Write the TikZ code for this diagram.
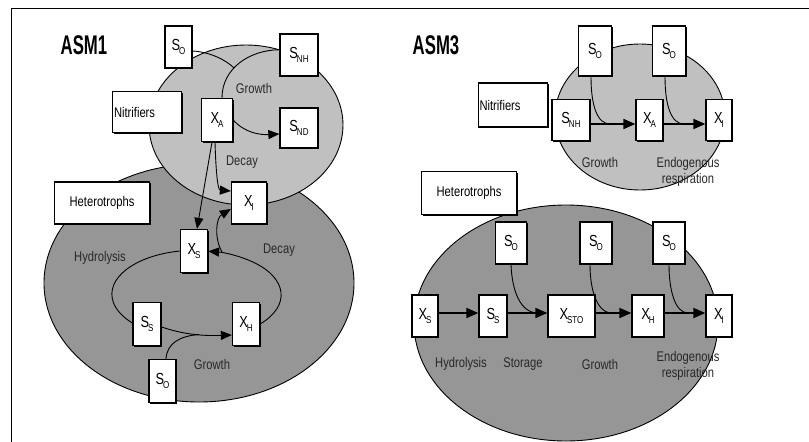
\documentclass[tikz,border=0pt]{standalone}
\usepackage{fontspec}
\setmainfont{Liberation Sans}[FakeStretch=0.8]
\newfontfamily\titlefont{Liberation Sans}[FakeStretch=0.62]
\usetikzlibrary{arrows.meta,calc,shadows}
\definecolor{ltgray}{RGB}{192,192,192}
\definecolor{dkgray}{RGB}{150,150,150}
\definecolor{txtgray}{RGB}{40,40,40}
\newcommand\subtxt[2]{#1\kern-1pt\raisebox{-3.5pt}{\fontsize{10}{10}\selectfont #2}}
\begin{document}
\begin{tikzpicture}[x=1pt,y=-1pt,
 bx/.style={draw, fill=white, line width=1.3pt, inner sep=0pt,
   font=\fontsize{16}{16}\selectfont,
   drop shadow={shadow xshift=1.1pt, shadow yshift=-1.1pt, fill=black, opacity=1}},
 wbx/.style={bx, font=\fontsize{14}{16}\selectfont},
 lbl/.style={inner sep=0pt, text=txtgray, font=\fontsize{14}{16}\selectfont, align=center},
 ttl/.style={inner sep=0pt, font=\titlefont\bfseries\fontsize{27}{27}\selectfont},
 ln/.style={line width=0.9pt},
 arr/.style={line width=0.9pt, -{Triangle[length=11pt,width=9pt]}},
 tarr/.style={line width=1.8pt, -{Triangle[length=12pt,width=10pt]}},
 ell/.style={draw, line width=0.9pt}
]
\useasboundingbox (0,0) rectangle (809,442);
\draw[line width=1pt] (11,442) -- (11,8) -- (809,8);

% ---------------- ASM1 ----------------
\node[ttl] (t1) at (84,45) {ASM1};
\path[ell, fill=dkgray] (199,283) ellipse [x radius=155, y radius=119];
\path[ell, fill=ltgray] (246,125) ellipse [x radius=97, y radius=80];

\node[bx, minimum width=27pt, minimum height=42pt] (so1) at (178.5,47) {\subtxt{S}{O}};
\node[bx, minimum width=38pt, minimum height=42pt] (snh) at (299,55) {\subtxt{S}{NH}};
\node[wbx, minimum width=69pt, minimum height=41pt, text width=66pt, align=left] (nit) at (147,112) {Nitrifiers};
\node[bx, minimum width=31pt, minimum height=43pt] (xa) at (217,120) {\subtxt{X}{A}};
\node[bx, minimum width=38pt, minimum height=40pt] (snd) at (299,128) {\subtxt{S}{ND}};
\node[bx, minimum width=35pt, minimum height=42pt] (xi) at (249,203) {\subtxt{X}{I}};
\node[wbx, minimum width=95pt, minimum height=42pt] (het) at (102,203) {Heterotrophs};
\node[bx, minimum width=27pt, minimum height=43pt] (xs) at (194,251) {\subtxt{X}{S}};
\node[bx, minimum width=28pt, minimum height=43pt] (ss) at (147,324) {\subtxt{S}{S}};
\node[bx, minimum width=27pt, minimum height=43pt] (xh) at (246,324) {\subtxt{X}{H}};
\node[bx, minimum width=27pt, minimum height=43pt] (so2) at (162.5,381) {\subtxt{S}{O}};

\node[lbl] (g1) at (254,88) {Growth};
\node[lbl] (d1) at (242,162) {Decay};
\node[lbl] (h1) at (100,258) {Hydrolysis};
\node[lbl] (d2) at (279,250) {Decay};
\node[lbl] (g2) at (212,364) {Growth};

\coordinate (m1) at (234,68);
\draw[ln] (snh.165) .. controls (250,50) and (222,68) .. ($(xa.north)+(5,0)$);
\draw[ln] ($(so1.east)+(0,4)$) .. controls (210,52) and (226,60) .. (m1);
\draw[arr] (xa.east) .. controls (245,133) and (260,135) .. ($(snd.west)+(0,6)$);
\draw[arr] ($(xa.south)+(-5,0)$) -- ($(xs.north)+(3,0)$);
\draw[arr] ($(xa.south)+(-2,0)$) .. controls (216,175) and (218,190) .. ($(xi.west)+(0,-12)$);
\draw[ln] (xs.west) arc[start angle=-101, end angle=-221, x radius=84, y radius=44];
\draw[arr] (xh.east) arc[start angle=41.4, end angle=-82.5, x radius=84, y radius=44];
\coordinate (dk) at (222,252);
\draw[arr] (dk) .. controls (214,238) and (216,218) .. ($(xi.west)+(0,6)$);
\draw[arr] ($(ss.east)+(0,3)$) .. controls (185,335) and (205,336) .. ($(xh.west)+(0,11)$);
\coordinate (m2) at (199,334.5);
\draw[ln] ($(so2.north)+(3.5,0)$) .. controls (167,343) and (180,336) .. (m2);

% ---------------- ASM3 ----------------
\node[ttl] (t3) at (436,45) {ASM3};
\path[ell, fill=ltgray] (640,117) ellipse [x radius=85, y radius=73];
\path[ell, fill=dkgray] (566,323) ellipse [x radius=152, y radius=118];

\node[wbx, minimum width=69pt, minimum height=44pt, text width=67pt, align=left] (nit3) at (513,105) {Nitrifiers};
\node[bx, minimum width=33pt, minimum height=50pt] (so3) at (595,51) {\subtxt{S}{O}};
\node[bx, minimum width=33pt, minimum height=50pt] (so4) at (669,51) {\subtxt{S}{O}};
\node[bx, minimum width=38pt, minimum height=41pt] (snh3) at (571,120) {\subtxt{S}{NH}};
\node[bx, minimum width=27pt, minimum height=41pt] (xa3) at (649.5,120) {\subtxt{X}{A}};
\node[bx, minimum width=26pt, minimum height=41pt] (xi3) at (719,120) {\subtxt{X}{I}};
\node[wbx, minimum width=95pt, minimum height=43pt] (het3) at (469,193) {Heterotrophs};

\node[bx, minimum width=31pt, minimum height=42pt] (soa) at (511,243) {\subtxt{S}{O}};
\node[bx, minimum width=32pt, minimum height=42pt] (sob) at (596,243) {\subtxt{S}{O}};
\node[bx, minimum width=32pt, minimum height=42pt] (soc) at (669,243) {\subtxt{S}{O}};
\node[bx, minimum width=26pt, minimum height=42pt] (xs3) at (425,316) {\subtxt{X}{S}};
\node[bx, minimum width=28pt, minimum height=42pt] (ss3) at (493,316) {\subtxt{S}{S}};
\node[bx, minimum width=47pt, minimum height=42pt] (xsto) at (571.5,316) {\subtxt{X}{STO}};
\node[bx, minimum width=32pt, minimum height=42pt] (xh3) at (648,316) {\subtxt{X}{H}};
\node[bx, minimum width=26pt, minimum height=42pt] (xi3b) at (719,316) {\subtxt{X}{I}};

\node[lbl] (g3) at (600,162) {Growth};
\node[lbl] (e3) at (688,172) {Endogenous\\respiration};
\node[lbl] (h3) at (461,364) {Hydrolysis};
\node[lbl] (st3) at (523,364) {Storage};
\node[lbl] (g4) at (600,364) {Growth};
\node[lbl] (e4) at (688,366) {Endogenous\\respiration};

\draw[tarr] ($(snh3.east)+(0,4)$) -- ($(xa3.west)+(0,4)$);
\draw[tarr] ($(xa3.east)+(0,4)$) -- ($(xi3.west)+(0,4)$);
\coordinate (m3) at (610,124);
\coordinate (m4) at (684,124);
\draw[ln] ($(so3.south)+(-4,0)$) .. controls (591,105) and (597,124) .. (m3);
\draw[ln] ($(so4.south)+(-4,0)$) .. controls (665,105) and (671,124) .. (m4);

\draw[tarr] ($(xs3.east)+(0,-3)$) -- ($(ss3.west)+(0,-3)$);
\draw[tarr] ($(ss3.east)+(0,-3)$) -- ($(xsto.west)+(0,-3)$);
\draw[tarr] ($(xsto.east)+(0,-3)$) -- ($(xh3.west)+(0,-3)$);
\draw[tarr] ($(xh3.east)+(0,-3)$) -- ($(xi3b.west)+(0,-3)$);
\coordinate (m5) at (538,313);
\coordinate (m6) at (612,313);
\coordinate (m7) at (688,313);
\draw[ln] (soa.south) .. controls (512,290) and (520,313) .. (m5);
\draw[ln] ($(sob.south)+(-6,0)$) .. controls (590,290) and (597,313) .. (m6);
\draw[ln] (soc.south) .. controls (669,290) and (675,313) .. (m7);
\end{tikzpicture}
\end{document}
